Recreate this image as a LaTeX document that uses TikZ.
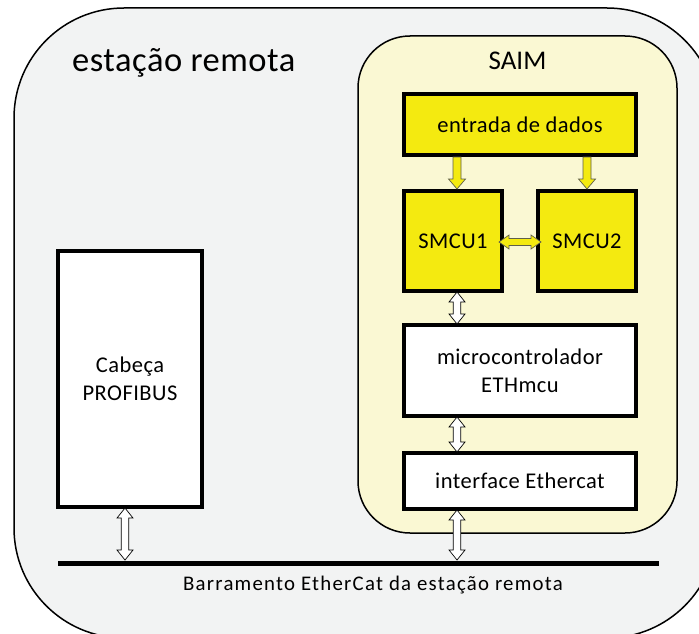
\documentclass[tikz,border=0pt]{standalone}
\usepackage{fontspec}
\setmainfont{Carlito}
\usetikzlibrary{calc}

\definecolor{stationbg}{HTML}{F2F3F3}
\definecolor{saimbg}{HTML}{FAF8D3}
\definecolor{unityellow}{HTML}{F4EA10}
\definecolor{arrowedge}{HTML}{5F5F4A}

% vertical double arrow between a top point (#2) and a bottom point (#3)
\newcommand\vdoublearrow[3][]{%
  \draw[#1] let \p1=(#2), \p2=(#3) in
    (\x1,\y1) -- (\x1+8pt,\y1-10pt) -- (\x1+3.8pt,\y1-10pt) -- (\x1+3.8pt,\y2+10pt)
    -- (\x1+8pt,\y2+10pt) -- (\x1,\y2) -- (\x1-8pt,\y2+10pt) -- (\x1-3.8pt,\y2+10pt)
    -- (\x1-3.8pt,\y1-10pt) -- (\x1-8pt,\y1-10pt) -- cycle;}
% horizontal double arrow between a left point (#2) and a right point (#3)
\newcommand\hdoublearrow[3][]{%
  \draw[#1] let \p1=(#2), \p2=(#3) in
    (\x1,\y1) -- (\x1+10pt,\y1+7pt) -- (\x1+10pt,\y1+3.5pt) -- (\x2-10pt,\y1+3.5pt)
    -- (\x2-10pt,\y1+7pt) -- (\x2,\y1) -- (\x2-10pt,\y1-7pt) -- (\x2-10pt,\y1-3.5pt)
    -- (\x1+10pt,\y1-3.5pt) -- (\x1+10pt,\y1-7pt) -- cycle;}
% single downward arrow from a top point (#2) to a bottom point (#3)
\newcommand\feeddown[3][]{%
  \draw[#1] let \p1=(#2), \p2=(#3) in
    (\x1-4pt,\y1) -- (\x1-4pt,\y2+10pt) -- (\x1-8.5pt,\y2+10pt) -- (\x1,\y2)
    -- (\x1+8.5pt,\y2+10pt) -- (\x1+4pt,\y2+10pt) -- (\x1+4pt,\y1) -- cycle;}

\tikzset{
  unitbox/.style={draw=black, line width=4pt, fill=white, inner sep=0pt,
    align=center, font=\fontsize{22.5}{28}\selectfont\addfontfeature{LetterSpace=2}},
  yellowbox/.style={unitbox, fill=unityellow},
  linkarrow/.style={draw=black, line width=0.7pt, fill=white, line join=miter},
  feedarrow/.style={draw=arrowedge, line width=0.7pt, fill=unityellow, line join=miter},
}

\begin{document}
\begin{tikzpicture}[x=1pt, y=-1pt]
  \useasboundingbox (0,0) rectangle (699,634);
  \clip (0,0) rectangle (699,634);

  % remote station enclosure
  \draw[fill=stationbg, line width=1.5pt, rounded corners=110pt] (14,8) rectangle (717,638);
  \node[anchor=base west, font=\fontsize{34.5}{40}\selectfont\addfontfeature{LetterSpace=1.5}, inner sep=0pt] (stitle) at (72,72) {estação remota};

  % SAIM module
  \draw[fill=saimbg, line width=1.5pt, rounded corners=52pt] (358,36) rectangle (677,533);
  \node[anchor=base, font=\fontsize{27}{32}\selectfont, inner sep=0pt] (saimtitle) at (517.5,70) {SAIM};

  % units
  \node[yellowbox, minimum width=232pt, minimum height=61pt] (entrada) at (520,124.5) {entrada de dados};
  \node[yellowbox, minimum width=98pt, minimum height=100pt] (smcu1) at (453,241) {SMCU1};
  \node[yellowbox, minimum width=98pt, minimum height=100pt] (smcu2) at (587,241) {SMCU2};
  \node[unitbox, minimum width=232pt, minimum height=91pt] (micro) at (520,370.5) {microcontrolador\\ETHmcu};
  \node[unitbox, minimum width=232pt, minimum height=56pt] (iface) at (520,481) {interface Ethercat};
  \node[unitbox, minimum width=144pt, minimum height=256pt] (profi) at (130,379) {Cabeça\\PROFIBUS};

  % station bus
  \coordinate (busL) at (58,563);
  \coordinate (busR) at (659,563);
  \draw[line width=5pt] (busL) -- (busR);
  \node[font=\fontsize{20.8}{24}\selectfont\addfontfeature{LetterSpace=6}, inner sep=0pt] (buslabel) at (373,585) {Barramento EtherCat da estação remota};

  % data feed into the SMCUs
  \feeddown[feedarrow]{$(entrada.south -| smcu1.south)+(4,0)$}{$(smcu1.north)+(4,0)$}
  \feeddown[feedarrow]{entrada.south -| smcu2.south}{smcu2.north}
  \hdoublearrow[feedarrow]{$(smcu1.east)+(-5,1)$}{$(smcu2.west)+(5,1)$}

  % links down the chain to the bus
  \vdoublearrow[linkarrow]{$(smcu1.south)+(4,-1)$}{$(micro.north -| smcu1.south)+(4,1)$}
  \vdoublearrow[linkarrow]{$(micro.south -| smcu1.south)+(4,-1)$}{$(iface.north -| smcu1.south)+(4,1)$}
  \vdoublearrow[linkarrow]{$(iface.south -| smcu1.south)+(4,-1)$}{$(busL -| smcu1.south)+(4,-3)$}
  \vdoublearrow[linkarrow]{$(profi.south)+(-5,-1)$}{$(busL -| profi.south)+(-5,-3)$}
\end{tikzpicture}
\end{document}
